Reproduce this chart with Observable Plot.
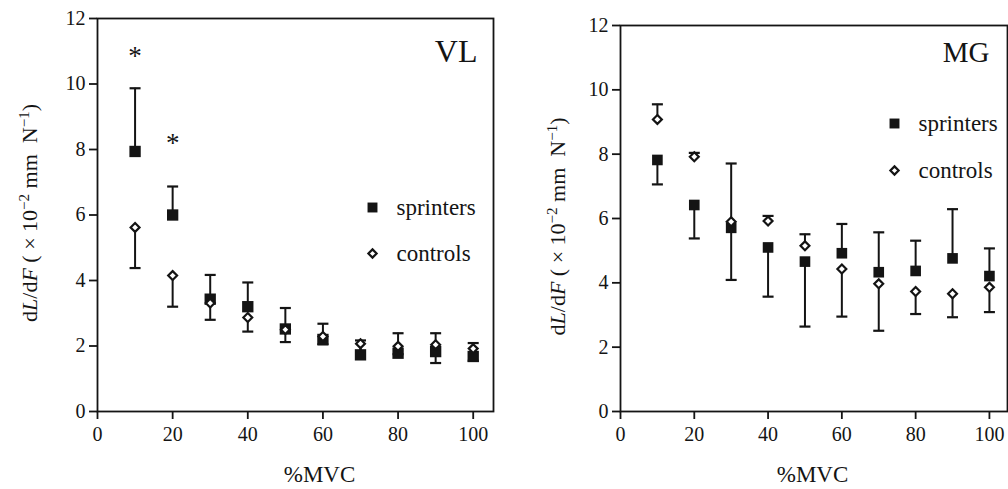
<!DOCTYPE html>
<html><head><meta charset="utf-8">
<script src="https://cdn.jsdelivr.net/npm/d3@7"></script>
<script src="https://cdn.jsdelivr.net/npm/@observablehq/plot@0.6"></script>
<style>
body{margin:0;background:#fff;}
#wrap{display:flex;width:1008px;height:489px;overflow:hidden;}
#wrap svg{display:block;}
#wrap svg, #wrap svg text, #wrap svg tspan{font-family:"Liberation Serif","Times New Roman",serif !important;}
</style></head><body><div id="wrap"></div>
<script>
// ---- data ----
const mvc = [10, 20, 30, 40, 50, 60, 70, 80, 90, 100];
const xTicks = [0, 20, 40, 60, 80, 100];
const yTicks = [0, 2, 4, 6, 8, 10, 12];
const groups = ["sprinters", "controls"];

// VL panel: means and error-bar end points
const vlSprinters    = [7.94, 6.00, 3.43, 3.20, 2.52, 2.20, 1.73, 1.78, 1.83, 1.68];
const vlSprintersErr = [9.87, 6.87, 4.17, 3.94, 3.16, 2.68, 2.17, 2.39, 2.39, 2.09];
const vlControls     = [5.62, 4.15, 3.31, 2.87, 2.50, 2.29, 2.07, 1.99, 2.04, 1.92];
const vlControlsErr  = [4.38, 3.20, 2.80, 2.44, 2.12, 2.05, 1.80, 1.75, 1.48, 1.55];
const vlStarX = [10, 20];
const vlStarY = [11.0, 8.35];

// MG panel
const mgSprinters    = [7.82, 6.42, 5.71, 5.10, 4.66, 4.92, 4.33, 4.37, 4.76, 4.21];
const mgSprintersErr = [7.06, 5.38, 4.09, 3.57, 2.64, 5.83, 5.57, 5.31, 6.29, 5.07];
const mgControls     = [9.08, 7.92, 5.90, 5.92, 5.15, 4.43, 3.97, 3.73, 3.66, 3.86];
const mgControlsErr  = [9.55, 8.04, 7.71, 6.08, 5.51, 2.95, 2.51, 3.03, 2.93, 3.09];

const xTitle = "%MVC";
const yTitle = "dL/dF ( × 10-2 mm N-1)";

// ---- drawing ----
const INK = "#141414";
const FONT = "Liberation Serif";
const cap = {draw(ctx) { ctx.moveTo(-5.5, 0); ctx.lineTo(5.5, 0); }};

function rowsOf(vals, errs, group) {
  return mvc.map((x, i) => ({x, y: vals[i], e: errs[i], group}));
}

function panel(o) {
  const sp = rowsOf(o.s, o.se, groups[0]);
  const ct = rowsOf(o.c, o.ce, groups[1]);
  const all = sp.concat(ct);
  const stars = (o.starX || []).map((x, i) => ({x, y: o.starY[i]}));
  const T = {fontFamily: FONT, fill: INK};
  const svg = Plot.plot({
    width: 504, height: 489,
    marginLeft: o.ml, marginRight: o.mr, marginTop: o.mt, marginBottom: 78,
    style: {fontFamily: FONT, color: INK, background: "white", overflow: "visible"},
    x: {domain: [0, o.xmax]},
    y: {domain: [0, 12]},
    marks: [
      Plot.axisX({ticks: xTicks, tickSize: 8, tickPadding: 7, fontSize: 20, fontFamily: FONT, strokeWidth: 1.8, label: null}),
      Plot.axisY({ticks: yTicks, tickSize: 8, tickPadding: 4, fontSize: 20, fontFamily: FONT, strokeWidth: 1.8, label: null}),
      Plot.ruleX(all, {x: "x", y1: "y", y2: "e", stroke: INK, strokeWidth: 2}),
      Plot.dot(all, {x: "x", y: "e", symbol: cap, r: 3, fill: "none", stroke: INK, strokeWidth: 2.2}),
      Plot.dot(sp, {x: "x", y: "y", symbol: "square", r: o.sq, fill: INK}),
      Plot.dot(ct, {x: "x", y: "y", symbol: "diamond2", r: 4, fill: "white", stroke: INK, strokeWidth: 2.2}),
      Plot.text(stars, {x: "x", y: "y", text: () => "*", fontSize: 27, lineAnchor: "middle", dy: 5, ...T}),
      Plot.frame({stroke: INK, strokeWidth: 1.8}),
      // legend
      Plot.dot([groups[0]], {frameAnchor: "top-right", dx: o.lgX, dy: o.lgY1, symbol: "square", r: 5.6, fill: INK}),
      Plot.dot([groups[1]], {frameAnchor: "top-right", dx: o.lgX, dy: o.lgY2, symbol: "diamond2", r: 3.7, fill: "white", stroke: INK, strokeWidth: 2.2}),
      Plot.text([groups[0]], {frameAnchor: "top-right", dx: o.lgX + 24, dy: o.lgY1, textAnchor: "start", lineAnchor: "middle", fontSize: 23, ...T}),
      Plot.text([groups[1]], {frameAnchor: "top-right", dx: o.lgX + 24, dy: o.lgY2, textAnchor: "start", lineAnchor: "middle", fontSize: 23, ...T}),
      // panel label
      Plot.text([o.name], {frameAnchor: "top-right", dx: o.nx, dy: o.ny, textAnchor: "end", lineAnchor: "bottom", fontSize: o.nfs, ...T}),
      // axis titles
      Plot.text([xTitle], {frameAnchor: "bottom", dx: o.xtdx, dy: 70.5, lineAnchor: "bottom", fontSize: 23, ...T}),
      Plot.text([yTitle], {frameAnchor: "left", dx: o.ytdx, dy: o.ytdy, rotate: -90, lineAnchor: "bottom", textAnchor: "middle", fontSize: 22, ...T})
    ]
  });
  d3.select(svg).selectAll("text").filter(function() { return this.textContent === yTitle; }).each(function() {
    const t = d3.select(this);
    t.text(null);
    const parts = [
      ["d", null, 0, null], ["L", "italic", 0, null], ["/d", null, 0, null], ["F", "italic", 0, null],
      ["\u00A0( × 10", null, 0, null], ["\u22122", null, -8, "15px"], ["\u00A0mm\u00A0\u00A0N", null, 8, null],
      ["\u22121", null, -8, "15px"], [")", null, 8, null]
    ];
    for (const [s, fs, dy, size] of parts) {
      const sp = t.append("tspan").text(s);
      if (fs) sp.attr("font-style", fs);
      if (dy) sp.attr("dy", dy);
      if (size) sp.attr("font-size", size);
    }
  });
  return svg;
}

const wrap = document.getElementById("wrap");
wrap.append(panel({
  name: "VL", s: vlSprinters, se: vlSprintersErr, c: vlControls, ce: vlControlsErr,
  starX: vlStarX, starY: vlStarY,
  ml: 97, mr: 11, mt: 18, xmax: 105.4, sq: 6.4,
  lgX: -121, lgY1: 189, lgY2: 235,
  nx: -16, ny: 43.7, nfs: 32,
  xtdx: 24, ytdx: -61, ytdy: -2
}));
wrap.append(panel({
  name: "MG", s: mgSprinters, se: mgSprintersErr, c: mgControls, ce: mgControlsErr,
  ml: 116, mr: 1, mt: 25, xmax: 104.9, sq: 6.0,
  lgX: -113, lgY1: 98, lgY2: 145,
  nx: -18, ny: 36.7, nfs: 29,
  xtdx: -1.5, ytdx: -56, ytdy: 8
}));
</script></body></html>
